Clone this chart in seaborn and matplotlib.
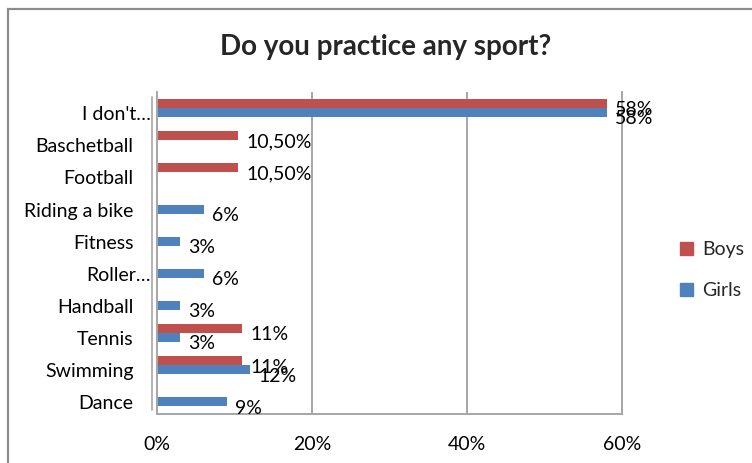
import numpy as np
import pandas as pd
import matplotlib
matplotlib.use("Agg")
import matplotlib.pyplot as plt
import matplotlib.transforms as mtransforms
from matplotlib.patches import Rectangle
from matplotlib.lines import Line2D
import seaborn as sns

# Survey answers (percent of respondents)
categories = ["I don't…", "Baschetball", "Football", "Riding a bike", "Fitness",
              "Roller…", "Handball", "Tennis", "Swimming", "Dance"]
boys = [58, 10.5, 10.5, np.nan, np.nan, np.nan, np.nan, 11, 11, np.nan]
girls = [58, np.nan, np.nan, 6, 3, 6, 3, 3, 12, 9]
series = ["Boys", "Girls"]
x_ticks = [0, 20, 40, 60]

RED = "#C0504D"
BLUE = "#4F81BD"
GRID = "#a6a6a6"
FS = 14

sns.set_theme(style="white")
plt.rcParams["font.family"] = ["Lato", "DejaVu Sans"]

rows = []
for cat, b, g in zip(categories, boys, girls):
    rows.append({"sport": cat, "group": "Boys", "pct": b})
    rows.append({"sport": cat, "group": "Girls", "pct": g})
df = pd.DataFrame(rows).dropna()

fig = plt.figure(figsize=(7.52, 4.63), dpi=100)
W, H = 752, 463
ax = fig.add_axes([157 / W, 1 - 413.5 / H, (622 - 157) / W, (413.5 - 92) / H])

sns.barplot(data=df, y="sport", x="pct", hue="group", order=categories,
            hue_order=series, palette=[RED, BLUE], width=0.56, orient="h",
            saturation=1, ax=ax, legend=False, edgecolor="none")

ax.set_xlim(0, 60)
ax.set_xticks(x_ticks)
ax.set_xticklabels([f"{t}%" for t in x_ticks])
ax.set_xlabel("")
ax.set_ylabel("")

# wall grid and frame
for t in x_ticks[1:-1]:
    ax.axvline(t, color=GRID, lw=1.4, zorder=0)
ax.spines["top"].set_visible(False)
for side in ["left", "right", "bottom"]:
    ax.spines[side].set_color(GRID)
    ax.spines[side].set_linewidth(1.4)
fig.add_artist(Line2D([152 / W, 152 / W], [1 - 410 / H, 1 - 97 / H],
                      color=GRID, lw=1.2, transform=fig.transFigure))

ax.tick_params(axis="x", length=0, pad=16, labelsize=FS, colors="black")
ax.tick_params(axis="y", length=0, pad=17, labelsize=FS, colors="black")
down = mtransforms.ScaledTranslation(0, -5 / 100, fig.dpi_scale_trans)
shift = mtransforms.ScaledTranslation(17 / 100, -5 / 100, fig.dpi_scale_trans)
for lbl in ax.get_yticklabels():
    if lbl.get_text().endswith("…"):
        lbl.set_transform(lbl.get_transform() + shift)
    else:
        lbl.set_transform(lbl.get_transform() + down)


def fmt(v):
    if float(v).is_integer():
        return f"{v:.0f}%"
    return f"{v:.2f}%".replace(".", ",")


for cont, name in zip(ax.containers, series):
    vals = df[df["group"] == name]["pct"].tolist()
    anns = ax.bar_label(cont, labels=[fmt(v) for v in vals], padding=6,
                        fontsize=FS, color="black")
    for a in anns:
        a.xyann = (6, -4.5)

# legend
handles = [Rectangle((0, 0), 1, 1, color=c) for c in (RED, BLUE)]
fig.legend(handles, series, loc="center left",
           bbox_to_anchor=(680 / W, 1 - 270 / H), frameon=False,
           fontsize=FS, handlelength=0.65, handleheight=0.65,
           handletextpad=0.5, labelspacing=1.25, borderpad=0,
           borderaxespad=0)

fig.text(386 / W, 1 - 47 / H, "Do you practice any sport?", ha="center",
         va="center", fontsize=20, fontweight="bold")

# chart border
fig.patches.append(Rectangle((8 / W, -0.1), 1.1, 1 - 9 / H + 0.1,
                             transform=fig.transFigure, fill=False,
                             edgecolor="#8c8c8c", lw=1.6))

fig.savefig("out.png", dpi=100)
